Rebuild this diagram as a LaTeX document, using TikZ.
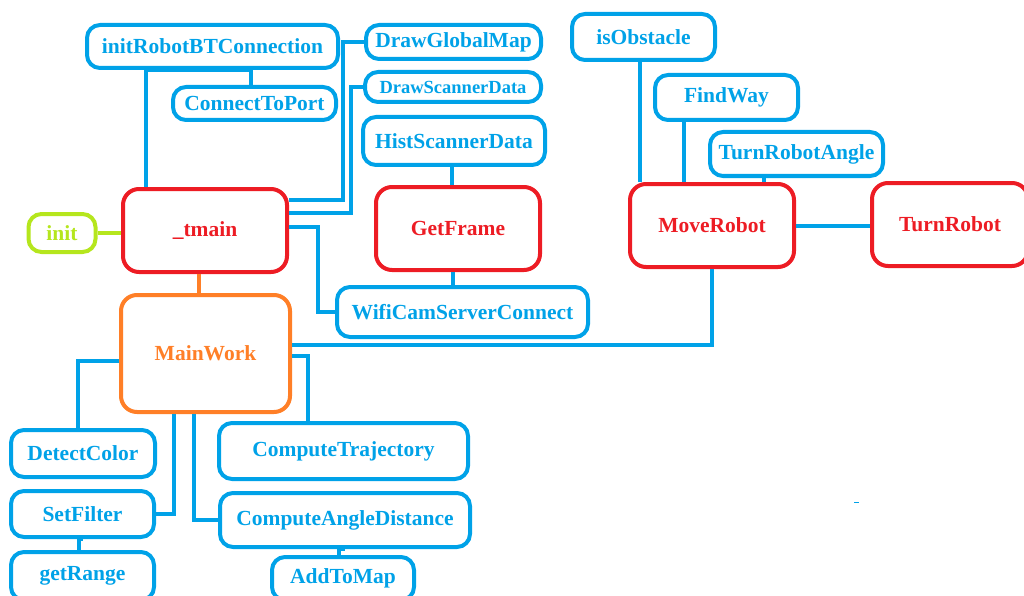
\documentclass[tikz,border=0pt]{standalone}
\usepackage{fontspec}
\setmainfont{Liberation Serif}
\definecolor{paintblue}{HTML}{00A2E8}
\definecolor{paintred}{HTML}{ED1C24}
\definecolor{paintorange}{HTML}{FF7F27}
\definecolor{paintlime}{HTML}{B5E61D}
\tikzset{
WIRE/.style={draw=#1,line width=4pt,line join=miter},
WIRE/.default=paintblue,
BOX/.style={draw=#1,text=#1,line width=4pt,rounded corners=13pt,inner sep=0pt,fill=white,
  font=\fontsize{21.5}{25}\selectfont\bfseries},
LEAF/.style={BOX=paintblue},
CORE/.style={BOX=paintred,rounded corners=16pt},
}

\begin{document}
\begin{tikzpicture}
[x=1pt, y=-1pt]
	\useasboundingbox (0,0) rectangle (1024,596);
	\clip (0,0) rectangle (1024,596);
	% main routines
	\node[BOX=paintlime, minimum width=67pt, minimum height=38pt] (init) at (62,233) {init};
	\node[CORE, minimum width=164pt, minimum height=83pt] (tmain) at (205,230.5) {\_tmain};
	\node[BOX=paintorange, rounded corners=16pt, minimum width=169pt, minimum height=117pt] (work) at (205.5,353.5) {MainWork};
	\node[CORE, minimum width=164pt, minimum height=83pt] (frame) at (458,228.5) {GetFrame};
	\node[CORE, minimum width=164pt, minimum height=83pt] (move) at (712,225.5) {MoveRobot};
	\node[CORE, minimum width=156pt, minimum height=83pt] (turn) at (950,224.5) {TurnRobot};
	% helpers
	\node[LEAF, minimum width=251pt, minimum height=43pt] (bt) at (212.5,46.5) {initRobotBTConnection};
	\node[LEAF, minimum width=163pt, minimum height=33pt] (port) at (254.5,103.5) {ConnectToPort};
	\node[LEAF, minimum width=175pt, minimum height=34pt] (gmap) at (453.5,42) {DrawGlobalMap};
	\node[LEAF, minimum width=176pt, minimum height=30pt, font=\fontsize{18.5}{22}\selectfont\bfseries] (sdata) at (453,87) {DrawScannerData};
	\node[LEAF, minimum width=182pt, minimum height=48pt] (hist) at (454,141) {HistScannerData};
	\node[LEAF, minimum width=251pt, minimum height=50pt] (wifi) at (462.5,312) {WifiCamServerConnect};
	\node[LEAF, minimum width=143pt, minimum height=46pt] (obst) at (643.5,37) {isObstacle};
	\node[LEAF, minimum width=143pt, minimum height=45pt] (way) at (726.5,97.5) {FindWay};
	\node[LEAF, minimum width=173pt, minimum height=44pt] (angle) at (796.5,154) {TurnRobotAngle};
	\node[LEAF, minimum width=144pt, minimum height=47pt] (color) at (83,453.5) {DetectColor};
	\node[LEAF, minimum width=143pt, minimum height=46pt] (filter) at (82.5,514) {SetFilter};
	\node[LEAF, minimum width=143pt, minimum height=48pt] (range) at (82.5,576) {getRange};
	\node[LEAF, minimum width=249pt, minimum height=56pt] (traj) at (343.5,451) {ComputeTrajectory};
	\node[LEAF, minimum width=250pt, minimum height=54pt] (adist) at (345,520) {ComputeAngleDistance};
	\node[LEAF, minimum width=142pt, minimum height=43pt] (amap) at (343,578.5) {AddToMap};
	% drop points of the straight calls
	\coordinate (workdrop) at ([xshift=-6.5pt]tmain.south);
	\coordinate (histdrop) at ([xshift=-2pt]hist.south);
	\coordinate (framedrop) at ([xshift=-5pt]frame.south);
	\coordinate (obstdrop) at ([xshift=-3.5pt]obst.south);
	\coordinate (waydrop) at ([xshift=-42.5pt]way.south);
	\coordinate (angledrop) at ([xshift=-32.5pt]angle.south);
	% calls
	\draw[WIRE=paintlime] (init.east) -- (init.east -| tmain.west);
	\draw[WIRE=paintorange] (workdrop) -- (workdrop |- work.north);
	\draw[WIRE] ([xshift=25pt]tmain.north west) |- (bt.south);
	\draw[WIRE] ([xshift=-4pt]port.north) |- (bt.south);
	\draw[WIRE] ([yshift=-13pt]tmain.north east) -| ([xshift=-21pt]gmap.west) -- (gmap.west);
	\draw[WIRE] ([yshift=-26pt]tmain.north east) -| ([xshift=-12pt]sdata.west) -- (sdata.west);
	\draw[WIRE] ([yshift=-40pt]tmain.north east) -| ([xshift=-17pt]wifi.west) -- (wifi.west);
	\draw[WIRE] (histdrop) -- (histdrop |- frame.north);
	\draw[WIRE] (framedrop) -- (framedrop |- wifi.north);
	\draw[WIRE] ([yshift=-52pt]work.north east) -| (move.south);
	\draw[WIRE] ([yshift=-63pt]work.north east) -| ([xshift=-36pt]traj.north);
	\draw[WIRE] ([yshift=-68pt]work.north west) -| ([xshift=-5pt]color.north);
	\draw[WIRE] ([xshift=55pt]work.south west) |- (filter.east);
	\draw[WIRE] ([xshift=75pt]work.south west) |- (adist.west);
	\draw[WIRE] ([xshift=-4pt]range.north) |- (filter.south);
	\draw[WIRE] ([xshift=-4pt]amap.north) |- (adist.south);
	\draw[WIRE] (obstdrop) -- (obstdrop |- move.north);
	\draw[WIRE] (waydrop) -- (waydrop |- move.north);
	\draw[WIRE] (angledrop) -- (angledrop |- move.north);
	\draw[WIRE] (move.east) -- (move.east -| turn.west);
	\draw[paintblue, line width=1pt] (854,502) -- (859,502);
\end{tikzpicture}
\end{document}
